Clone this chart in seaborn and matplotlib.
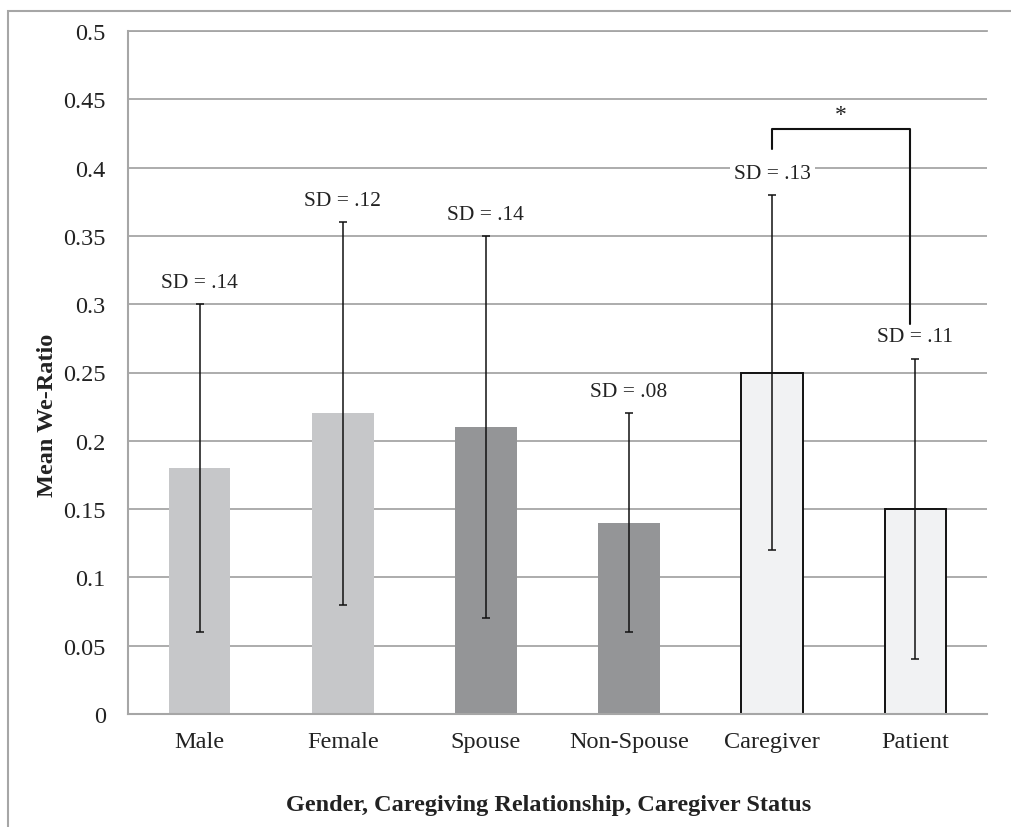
import matplotlib
matplotlib.use("Agg")
import matplotlib.pyplot as plt
import seaborn as sns
from matplotlib.patches import Rectangle

# group means, error half-widths and the SD labels printed above each bar
groups = ["Male", "Female", "Spouse", "Non-Spouse", "Caregiver", "Patient"]
mean_we_ratio = [0.18, 0.22, 0.21, 0.14, 0.25, 0.15]
error_half = [0.12, 0.14, 0.14, 0.08, 0.13, 0.11]
sd_labels = ["SD = .14", "SD = .12", "SD = .14", "SD = .08", "SD = .13", "SD = .11"]

bar_colors = ["#c6c7c9", "#c6c7c9", "#939598", "#939598", "#f1f2f3", "#f1f2f3"]
edge_colors = ["none", "none", "none", "none", "#111111", "#111111"]
grid_color = "#a6a6a6"
text_color = "#222222"

sns.set_theme(style="white")
plt.rcParams["font.family"] = ["Liberation Serif", "DejaVu Serif"]

fig = plt.figure(figsize=(10.11, 8.28), dpi=100)
ax = fig.add_axes([128 / 1011, 1 - 715 / 828, (987 - 128) / 1011, (715 - 32) / 828])

sns.barplot(
    x=groups,
    y=mean_we_ratio,
    hue=groups,
    palette=bar_colors,
    legend=False,
    width=0.43,
    ax=ax,
    zorder=2,
)
for patch, ec in zip(ax.patches, edge_colors):
    patch.set_edgecolor(ec)
    patch.set_linewidth(1.4 if ec != "none" else 0)

positions = list(range(len(groups)))
ax.errorbar(
    positions,
    mean_we_ratio,
    yerr=error_half,
    fmt="none",
    ecolor="#111111",
    elinewidth=1.1,
    capsize=3,
    capthick=1.1,
    zorder=3,
)

for x, m, e, label in zip(positions, mean_we_ratio, error_half, sd_labels):
    ax.text(
        x, m + e + 0.016, label,
        ha="center", va="center", fontsize=15.5, color=text_color,
        bbox=dict(facecolor="white", edgecolor="none", pad=3),
        zorder=4,
    )

# significance bracket between caregiver and patient
ax.plot([4, 4, 4.96, 4.96], [0.4136, 0.428, 0.428, 0.2855],
        color="#111111", lw=1.5, zorder=4, clip_on=False)
ax.text(4.48, 0.439, "*", ha="center", va="center", fontsize=17, color=text_color)

ax.set_ylim(0, 0.5)
ax.set_xlim(-0.5, 5.5)
ax.set_yticks([0, 0.05, 0.1, 0.15, 0.2, 0.25, 0.3, 0.35, 0.4, 0.45, 0.5])
ax.set_yticklabels(["0", "0.05", "0.1", "0.15", "0.2", "0.25", "0.3", "0.35", "0.4", "0.45", "0.5"])
ax.yaxis.grid(True, color=grid_color, lw=1.3)
ax.set_axisbelow(True)
ax.tick_params(axis="both", length=0, labelsize=17.5, colors=text_color)
ax.tick_params(axis="y", pad=16)
ax.tick_params(axis="x", pad=12)

ax.spines["right"].set_visible(False)
ax.spines["top"].set_color(grid_color)
ax.spines["top"].set_linewidth(1.3)
for side in ["left", "bottom"]:
    ax.spines[side].set_color(grid_color)
    ax.spines[side].set_linewidth(1.5)

ax.set_ylabel("Mean We-Ratio", fontsize=17.5, fontweight="bold", color=text_color)
ax.set_xlabel("Gender, Caregiving Relationship, Caregiver Status",
              fontsize=17.5, fontweight="bold", color=text_color)
ax.yaxis.set_label_coords(-0.082, 0.439)
ax.xaxis.set_label_coords(0.49, -0.117)

# outer chart frame (clipped at right and bottom in the source)
fig.add_artist(Rectangle((8 / 1011, -0.05), 1.2, 1.05 - 12 / 828,
                         transform=fig.transFigure, fill=False,
                         edgecolor=grid_color, lw=1.5))

fig.savefig("out.png", dpi=100)
